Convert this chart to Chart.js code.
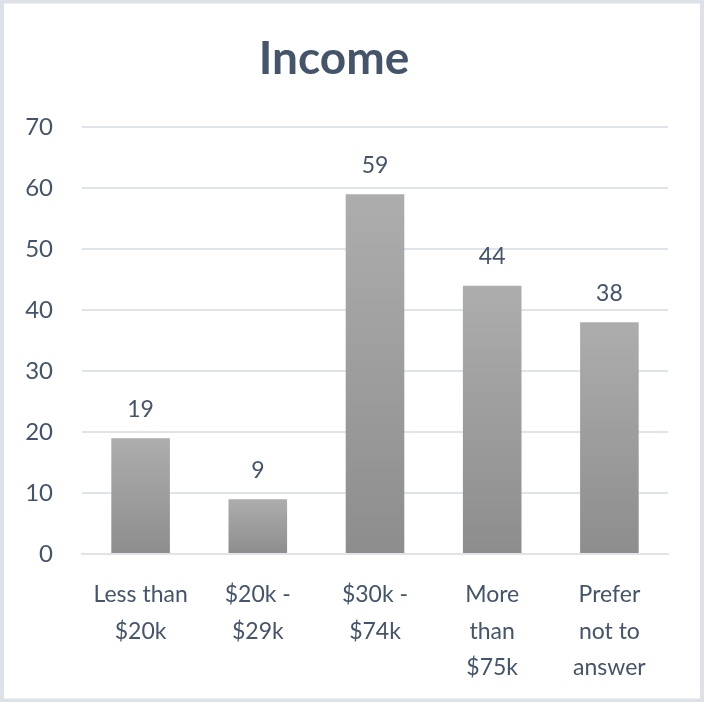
<!DOCTYPE html>
<html>
<head>
<meta charset="utf-8">
<script src="https://cdn.jsdelivr.net/npm/chart.js@4.4.1/dist/chart.umd.min.js"></script>
<style>
    html, body { margin: 0; padding: 0; background: #fff; }
    #wrap { width: 704px; height: 702px; position: relative; }
</style>
</head>
<body>
<div id="wrap"><canvas id="incomeChart" width="704" height="702"></canvas></div>
<script>
const categories = [['Less than', '$20k'], ['$20k -', '$29k'], ['$30k -', '$74k'], ['More', 'than', '$75k'], ['Prefer', 'not to', 'answer']];
const counts = [19, 9, 59, 44, 38];
const yTicks = [0, 10, 20, 30, 40, 50, 60, 70];

const textColor = '#44546a';
const fontFamily = 'Lato, "Open Sans", sans-serif';

// frame round the whole picture
const framePlugin = {
    id: 'frame',
    beforeDraw(chart) {
        const ctx = chart.ctx;
        ctx.save();
        ctx.fillStyle = '#fff';
        ctx.fillRect(0, 0, chart.width, chart.height);
        ctx.strokeStyle = '#dde2e9';
        ctx.lineWidth = 4;
        ctx.strokeRect(2, 1.5, chart.width - 4, chart.height - 3);
        ctx.restore();
    }
};

// value above each bar
const valueLabels = {
    id: 'valueLabels',
    afterDatasetsDraw(chart) {
        const ctx = chart.ctx;
        const meta = chart.getDatasetMeta(0);
        ctx.save();
        ctx.fillStyle = textColor;
        ctx.font = '23px ' + fontFamily;
        ctx.textAlign = 'center';
        ctx.textBaseline = 'middle';
        meta.data.forEach((bar, i) => {
            ctx.fillText(counts[i], bar.x, bar.y - 29);
        });
        ctx.restore();
    }
};

const ctx = document.getElementById('incomeChart').getContext('2d');
new Chart(ctx, {
    type: 'bar',
    data: {
        labels: categories,
        datasets: [{
            label: 'Income',
            data: counts,
            backgroundColor: function (context) {
                const chart = context.chart;
                if (!chart.chartArea || context.dataIndex === undefined) return '#9e9e9e';
                const y = chart.scales.y;
                const top = y.getPixelForValue(counts[context.dataIndex]);
                const bottom = y.getPixelForValue(0);
                const g = chart.ctx.createLinearGradient(0, top, 0, bottom);
                g.addColorStop(0, '#adadad');
                g.addColorStop(1, '#8d8d8d');
                return g;
            },
            borderWidth: 0,
            barPercentage: 0.5,
            categoryPercentage: 1.0
        }]
    },
    options: {
        responsive: false,
        animation: false,
        layout: {
            padding: { left: 0, right: 36, top: 0, bottom: 0 }
        },
        plugins: {
            legend: { display: false },
            tooltip: { enabled: false },
            title: {
                display: true,
                text: 'Income',
                color: textColor,
                font: { family: fontFamily, size: 46, weight: 'bold', lineHeight: 1.2 },
                padding: { top: 32, bottom: 40 }
            }
        },
        scales: {
            y: {
                min: 0,
                max: 70,
                afterBuildTicks(axis) {
                    axis.ticks = yTicks.map(v => ({ value: v }));
                },
                afterFit(axis) { axis.width = 82; },
                border: { display: false },
                grid: { color: '#dfe4ea', lineWidth: 2, drawTicks: false },
                ticks: {
                    color: textColor,
                    padding: 29,
                    font: { family: fontFamily, size: 24 }
                }
            },
            x: {
                afterFit(axis) { axis.height = 148; },
                border: { display: true, color: '#dfe4ea', width: 2 },
                grid: { display: false },
                ticks: {
                    color: textColor,
                    padding: 15,
                    maxRotation: 0,
                    autoSkip: false,
                    font: { family: fontFamily, size: 23, lineHeight: 1.57 }
                }
            }
        }
    },
    plugins: [framePlugin, valueLabels]
});
</script>
</body>
</html>
